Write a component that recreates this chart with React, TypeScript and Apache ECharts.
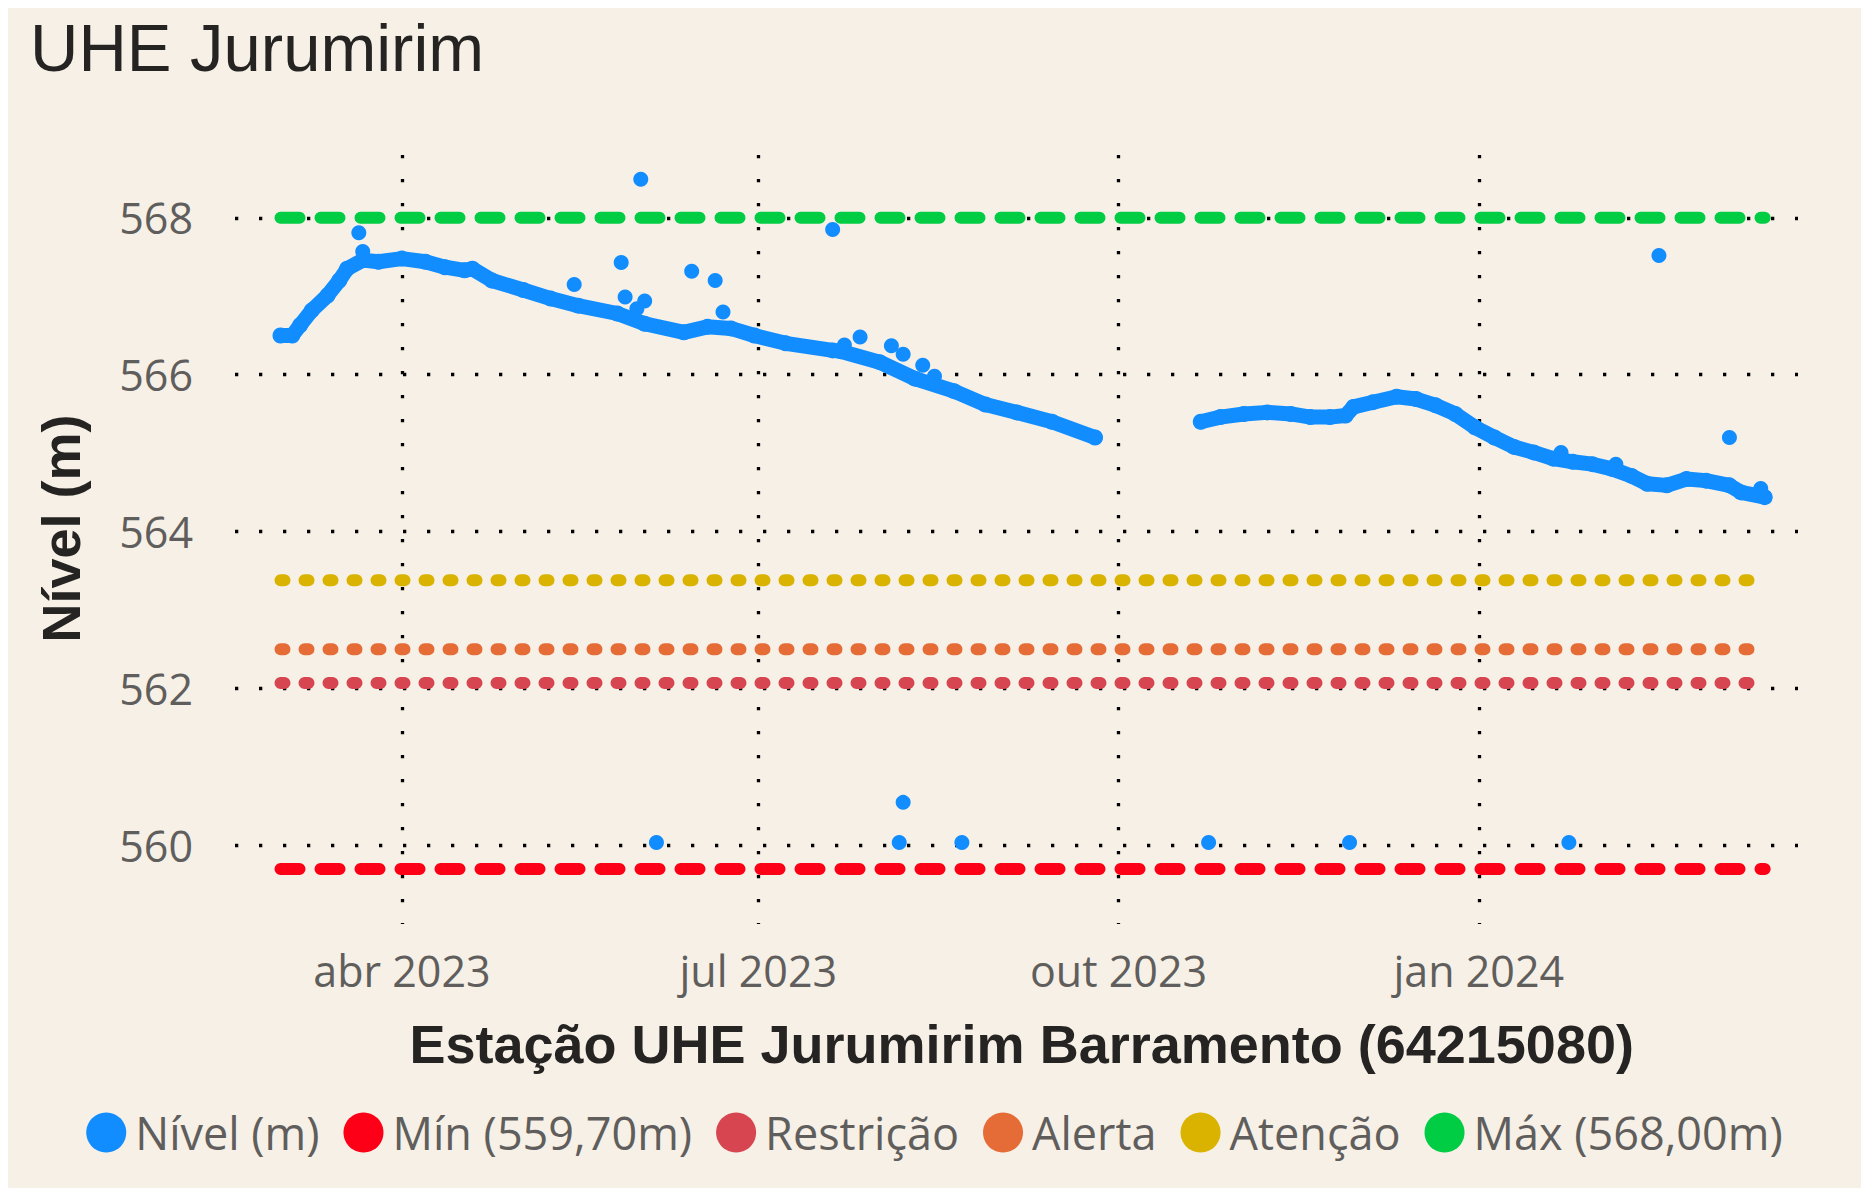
import React, { useEffect, useRef } from "react";
import * as echarts from "echarts";

// ---------- data ----------
const levelSegment1: [string, number][] = [
  ["2023-03-01", 566.5], ["2023-03-04", 566.5], ["2023-03-06", 566.63], ["2023-03-09", 566.82],
  ["2023-03-13", 567.01], ["2023-03-16", 567.2], ["2023-03-18", 567.35], ["2023-03-22", 567.46],
  ["2023-03-26", 567.44], ["2023-04-01", 567.48], ["2023-04-07", 567.44], ["2023-04-12", 567.37],
  ["2023-04-17", 567.33], ["2023-04-19", 567.35], ["2023-04-24", 567.2], ["2023-05-02", 567.08],
  ["2023-05-09", 566.97], ["2023-05-16", 566.88], ["2023-05-26", 566.78], ["2023-06-02", 566.65],
  ["2023-06-12", 566.54], ["2023-06-18", 566.61], ["2023-06-24", 566.59], ["2023-06-30", 566.5],
  ["2023-07-08", 566.4], ["2023-07-20", 566.31], ["2023-07-22", 566.3], ["2023-08-01", 566.16],
  ["2023-08-10", 565.95], ["2023-08-20", 565.79], ["2023-08-28", 565.62], ["2023-09-05", 565.52],
  ["2023-09-14", 565.4], ["2023-09-25", 565.2],
];

const levelSegment2: [string, number][] = [
  ["2023-10-22", 565.4], ["2023-10-27", 565.46], ["2023-11-02", 565.5], ["2023-11-08", 565.52],
  ["2023-11-14", 565.5], ["2023-11-19", 565.46], ["2023-11-24", 565.46], ["2023-11-28", 565.48],
  ["2023-11-30", 565.59], ["2023-12-05", 565.65], ["2023-12-11", 565.72], ["2023-12-16", 565.69],
  ["2023-12-21", 565.61], ["2023-12-26", 565.5], ["2023-12-31", 565.33], ["2024-01-05", 565.2],
  ["2024-01-10", 565.08], ["2024-01-15", 565.01], ["2024-01-20", 564.93], ["2024-01-25", 564.89],
  ["2024-01-30", 564.86], ["2024-02-04", 564.8], ["2024-02-09", 564.71], ["2024-02-13", 564.61],
  ["2024-02-18", 564.59], ["2024-02-23", 564.67], ["2024-02-28", 564.65], ["2024-03-05", 564.59],
  ["2024-03-08", 564.5], ["2024-03-14", 564.44],
];

const levelOutliers: [string, number][] = [
  ["2023-03-21", 567.81], ["2023-03-22", 567.57], ["2023-06-01", 568.49], ["2023-05-15", 567.15],
  ["2023-05-27", 567.43], ["2023-05-28", 566.99], ["2023-06-02", 566.94], ["2023-05-31", 566.84],
  ["2023-06-14", 567.32], ["2023-06-20", 567.2], ["2023-06-22", 566.8], ["2023-07-20", 567.85],
  ["2023-07-27", 566.48], ["2023-07-23", 566.38], ["2023-08-04", 566.37], ["2023-08-07", 566.26],
  ["2023-08-12", 566.12], ["2023-08-15", 565.98], ["2024-02-16", 567.52], ["2024-03-05", 565.2],
  ["2024-01-22", 565.01], ["2024-02-05", 564.86], ["2024-03-13", 564.55],
  ["2023-06-05", 560.04], ["2023-08-07", 560.55], ["2023-08-06", 560.04], ["2023-08-22", 560.04],
  ["2023-10-24", 560.04], ["2023-11-29", 560.04], ["2024-01-24", 560.04],
];

const thresholdPeriod = ["2023-03-01", "2024-03-14"];
const thresholdNames = ["Mín (559,70m)", "Restrição", "Alerta", "Atenção", "Máx (568,00m)"];
const thresholdValues = [559.7, 562.07, 562.5, 563.38, 568.0];

const levelName = "Nível (m)";
const yTicks = [560, 562, 564, 566, 568];
const xTickDates = ["2023-04-01", "2023-07-01", "2023-10-01", "2024-01-01"];
const xTickLabels = ["abr 2023", "jul 2023", "out 2023", "jan 2024"];

// ---------- styles ----------
const BG = "#F7F0E6";
const BLUE = "#118DFF";
const thresholdColors = ["#FD0017", "#D64550", "#E66C37", "#D9B300", "#00CC44"];
const thresholdDash = [[19, 21], [4, 20], [4, 20], [4, 20], [19, 21]];
const LABEL_FONT = "'Open Sans', 'Noto Sans', sans-serif";
const TITLE_FONT = "'Liberation Sans', Arial, sans-serif";

const ts = (s: string) => {
  const [y, m, d] = s.split("-").map(Number);
  return Date.UTC(y, m - 1, d);
};
const toPoints = (arr: [string, number][]) => arr.map(([s, v]) => [ts(s), v]);

export default function App() {
  const ref = useRef<HTMLDivElement>(null);

  useEffect(() => {
    if (!ref.current) return;
    const chart = echarts.init(ref.current, undefined, { renderer: "svg" });
    const xTicks = xTickDates.map(ts);

    const thresholdSeries = thresholdNames.map((name, i) => ({
      name,
      type: "line",
      color: thresholdColors[i],
      symbol: "none",
      z: 3,
      lineStyle: {
        color: thresholdColors[i],
        width: 12,
        type: thresholdDash[i],
        cap: "round",
      },
      data: thresholdPeriod.map((s) => [ts(s), thresholdValues[i]]),
    }));

    const levelLine = (arr: [string, number][]) => ({
      name: levelName,
      type: "line",
      color: BLUE,
      z: 5,
      symbol: "circle",
      symbolSize: 16,
      showSymbol: true,
      showAllSymbol: true,
      itemStyle: { color: BLUE },
      lineStyle: { color: BLUE, width: 15, cap: "round", join: "round" },
      data: toPoints(arr),
    });

    chart.setOption({
      animation: false,
      backgroundColor: BG,
      grid: { left: 227, right: 63, top: 147, bottom: 264, containLabel: false },
      legend: {
        data: [levelName, ...thresholdNames],
        icon: "circle",
        left: "center",
        top: 1097,
        itemWidth: 40,
        itemHeight: 40,
        itemGap: 24,
        textStyle: {
          fontFamily: LABEL_FONT,
          fontSize: 45,
          color: "#605E5C",
          padding: [0, 0, 0, 4],
        },
      },
      xAxis: {
        type: "value",
        min: Date.UTC(2023, 1, 17, 9, 7),
        max: Date.UTC(2024, 2, 22, 12, 15),
        axisLine: { show: false },
        axisTick: { show: false, customValues: xTicks },
        axisLabel: {
          customValues: xTicks,
          margin: 25,
          fontFamily: LABEL_FONT,
          fontSize: 43,
          color: "#605E5C",
          formatter: (v: number) => {
            let best = 0;
            xTicks.forEach((t, i) => {
              if (Math.abs(t - v) < Math.abs(xTicks[best] - v)) best = i;
            });
            return xTickLabels[best];
          },
        },
        splitLine: {
          show: true,
          lineStyle: { color: "#000", width: 3.3, type: [3.3, 20.7] },
        },
      },
      yAxis: {
        type: "value",
        min: 559,
        max: 568.8,
        axisLine: { show: false },
        axisTick: { show: false, customValues: yTicks },
        axisLabel: {
          customValues: yTicks,
          margin: 42,
          fontFamily: LABEL_FONT,
          fontSize: 43,
          color: "#605E5C",
        },
        splitLine: {
          show: true,
          lineStyle: { color: "#000", width: 3.3, type: [3.3, 20.7] },
        },
      },
      graphic: [
        {
          type: "text",
          x: 22,
          y: 39.5,
          style: {
            text: "UHE Jurumirim",
            fontFamily: TITLE_FONT,
            fontSize: 67,
            fill: "#252423",
            verticalAlign: "middle",
            align: "left",
          },
        },
        {
          type: "text",
          x: 1013.7,
          y: 1035.5,
          style: {
            text: "Estação UHE Jurumirim Barramento (64215080)",
            fontFamily: TITLE_FONT,
            fontWeight: "bold",
            fontSize: 54,
            fill: "#252423",
            verticalAlign: "middle",
            align: "center",
          },
        },
        {
          type: "text",
          x: 52.8,
          y: 520.5,
          rotation: Math.PI / 2,
          style: {
            text: "Nível (m)",
            fontFamily: TITLE_FONT,
            fontWeight: "bold",
            fontSize: 54,
            fill: "#252423",
            verticalAlign: "middle",
            align: "center",
          },
        },
      ],
      series: [
        ...thresholdSeries,
        levelLine(levelSegment1),
        levelLine(levelSegment2),
        {
          name: levelName,
          type: "scatter",
          color: BLUE,
          z: 6,
          symbol: "circle",
          symbolSize: 15,
          itemStyle: { color: BLUE, opacity: 1 },
          data: toPoints(levelOutliers),
        },
      ],
    });

    return () => chart.dispose();
  }, []);

  return (
    <div
      ref={ref}
      style={{ width: 1853, height: 1180, background: BG }}
    />
  );
}
